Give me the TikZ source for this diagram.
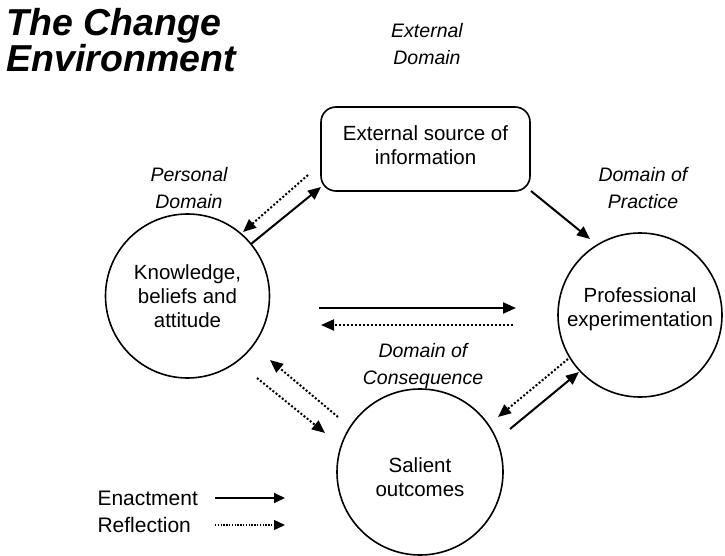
\documentclass[tikz,border=0pt]{standalone}
\usepackage{fontspec}
\setmainfont{Liberation Sans}
\usetikzlibrary{arrows.meta}
\begin{document}
\begin{tikzpicture}[x=1pt,y=-1pt,
  body/.style={font=\fontsize{20.5}{24}\selectfont, align=center},
  dom/.style={font=\fontsize{19.5}{26.5}\selectfont\itshape, align=center},
  ring/.style={circle, draw, line width=1.6pt, inner sep=0pt, body},
  enact/.style={line width=2pt, -{Triangle[length=13pt,width=11pt]}},
  reflect/.style={line width=2pt, dash pattern=on 2pt off 2pt, -{Triangle[length=13pt,width=11pt]}},
  enactL/.style={line width=1.8pt, -{Triangle[length=11pt,width=10pt]}},
  reflectL/.style={line width=1.4pt, dash pattern=on 1.4pt off 1.4pt, -{Triangle[length=11pt,width=10pt]}}
]
\useasboundingbox (0,0) rectangle (725,556);

% title
\node[anchor=west, align=left, font=\fontsize{37.5}{36}\selectfont\bfseries\itshape] (title) at (3,40) {The Change\\Environment};

% domain labels
\node[dom] (lext) at (427,44) {External\\Domain};
\node[dom] (lper) at (189,188) {Personal\\Domain};
\node[dom] (lpra) at (643,188) {Domain of\\Practice};
\node[dom] (lcon) at (423,366) {Domain of\\Consequence};

% main shapes
\node[draw, line width=1.6pt, rounded corners=15pt, minimum width=209pt, minimum height=84pt] (box) at (425.5,149) {};
\node[body] (boxt) at (425.5,145) {External source of\\information};
\node[ring, minimum size=164pt] (K) at (187.5,296) {Knowledge,\\beliefs and\\attitude};
\node[ring, minimum size=164pt] (P) at (640,315) {};
\node[body] (Pt) at (640,309) {Professional\\experimentation};
\node[ring, minimum size=166pt] (S) at (420,472) {};
\node[body] (St) at (420,477) {Salient\\outcomes};

% arrow end coordinates
\coordinate (a1s) at (251,244); \coordinate (a1e) at (321,187);
\coordinate (a2s) at (308,175); \coordinate (a2e) at (243,232);
\coordinate (a3s) at (531,191); \coordinate (a3e) at (590,239);
\coordinate (a4s) at (319,308); \coordinate (a4e) at (516,308);
\coordinate (a5s) at (513,325); \coordinate (a5e) at (321,325);
\coordinate (a6s) at (257,378); \coordinate (a6e) at (325,433);
\coordinate (a7s) at (338,417); \coordinate (a7e) at (270,360);
\coordinate (a8s) at (568,359); \coordinate (a8e) at (498,417);
\coordinate (a9s) at (510,429); \coordinate (a9e) at (579,372);

\draw[enact] (a1s) -- (a1e);
\draw[reflect] (a2s) -- (a2e);
\draw[enact] (a3s) -- (a3e);
\draw[enact] (a4s) -- (a4e);
\draw[reflect] (a5s) -- (a5e);
\draw[reflect] (a6s) -- (a6e);
\draw[reflect] (a7s) -- (a7e);
\draw[reflect] (a8s) -- (a8e);
\draw[enact] (a9s) -- (a9e);

% legend
\node[anchor=west, font=\fontsize{21}{24}\selectfont] (len) at (94,498) {Enactment};
\node[anchor=west, font=\fontsize{21}{24}\selectfont] (lrf) at (94,525) {Reflection};
\coordinate (le1s) at (215,498); \coordinate (le1e) at (285,498);
\coordinate (le2s) at (215,525); \coordinate (le2e) at (285,525);
\draw[enactL] (le1s) -- (le1e);
\draw[reflectL] (le2s) -- (le2e);
\end{tikzpicture}
\end{document}
